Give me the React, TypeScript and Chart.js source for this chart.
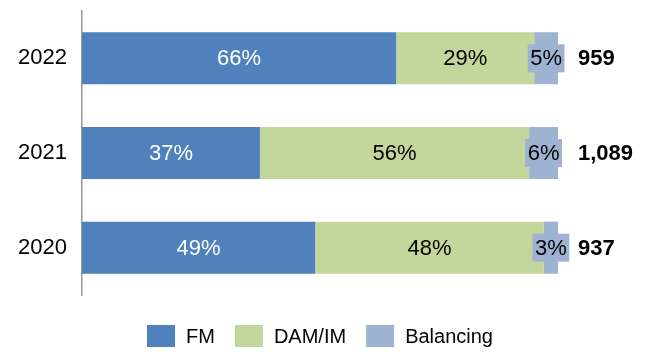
import React, { useEffect, useRef } from 'react';
import { Chart, registerables } from 'chart.js';

Chart.register(...registerables);

const categories = ['2022', '2021', '2020'];
const seriesNames = ['FM', 'DAM/IM', 'Balancing'];
const fmShare = [66, 37, 49];
const damImShare = [29, 56, 48];
const balancingShare = [5, 6, 3];
const totals = ['959', '1,089', '937'];
const seriesColors = ['#4F81BD', '#C3D69B', '#9EB2D2'];
const labelColors = ['#FFFFFF', '#000000', '#000000'];

const shares = [fmShare, damImShare, balancingShare];
const FONT = '"Liberation Sans", Arial, sans-serif';

// normalise each year to 100%
const rowSums = categories.map((_, i) => shares.reduce((s, arr) => s + arr[i], 0));
const normalised = shares.map((arr) => arr.map((v, i) => (v / rowSums[i]) * 100));

const labelPlugin = {
  id: 'valueLabels',
  afterDatasetsDraw(chart: any) {
    const ctx = chart.ctx;
    ctx.save();
    ctx.textBaseline = 'middle';
    ctx.font = `22px ${FONT}`;
    chart.data.datasets.forEach((_: any, di: number) => {
      const meta = chart.getDatasetMeta(di);
      meta.data.forEach((bar: any, i: number) => {
        const { x, y, base } = bar.getProps(['x', 'y', 'base'], true);
        const cx = (x + base) / 2;
        const text = shares[di][i] + '%';
        ctx.textAlign = 'center';
        if (di === 2) {
          const w = ctx.measureText(text).width + 5;
          ctx.fillStyle = seriesColors[2];
          ctx.fillRect(cx - w / 2, y - 14, w, 28);
        }
        ctx.fillStyle = labelColors[di];
        ctx.fillText(text, cx, y + 1);
      });
    });
    // totals
    ctx.font = `bold 22px ${FONT}`;
    ctx.textAlign = 'left';
    ctx.fillStyle = '#000000';
    const last = chart.getDatasetMeta(chart.data.datasets.length - 1);
    last.data.forEach((bar: any, i: number) => {
      ctx.fillText(totals[i], chart.chartArea.right + 20, bar.y + 1);
    });
    ctx.restore();
  },
  afterDraw(chart: any) {
    // legend
    const ctx = chart.ctx;
    ctx.save();
    ctx.font = `20px ${FONT}`;
    ctx.textBaseline = 'middle';
    ctx.textAlign = 'left';
    const boxW = 28;
    const boxH = 22;
    const gapText = 11;
    const gapItem = 20;
    const widths = seriesNames.map((n) => boxW + gapText + ctx.measureText(n).width);
    const total = widths.reduce((a, b) => a + b, 0) + gapItem * (widths.length - 1);
    const centerX = (chart.chartArea.left + chart.chartArea.right) / 2;
    let x = centerX - total / 2;
    const cy = 336;
    seriesNames.forEach((n, i) => {
      ctx.fillStyle = seriesColors[i];
      ctx.fillRect(x, cy - boxH / 2, boxW, boxH);
      ctx.fillStyle = '#000000';
      ctx.fillText(n, x + boxW + gapText, cy + 1);
      x += widths[i] + gapItem;
    });
    ctx.restore();
  },
};

export default function App() {
  const canvasRef = useRef<HTMLCanvasElement | null>(null);

  useEffect(() => {
    if (!canvasRef.current) return;
    const chart = new Chart(canvasRef.current, {
      type: 'bar',
      data: {
        labels: categories,
        datasets: seriesNames.map((name, i) => ({
          label: name,
          data: normalised[i],
          backgroundColor: seriesColors[i],
          borderWidth: 0,
          barPercentage: 1,
          categoryPercentage: 0.55,
        })),
      },
      options: {
        indexAxis: 'y',
        responsive: true,
        maintainAspectRatio: false,
        animation: false,
        layout: { padding: { left: 0, right: 90, top: 11, bottom: 57 } },
        plugins: {
          legend: { display: false },
          tooltip: { enabled: false },
        },
        scales: {
          x: {
            stacked: true,
            min: 0,
            max: 100,
            display: false,
          },
          y: {
            stacked: true,
            grid: { display: false, drawTicks: false },
            border: { display: true, color: '#9A9A9A', width: 1.5 },
            ticks: {
              color: '#000000',
              padding: 15,
              font: { family: FONT, size: 22 },
            },
            afterFit(scale: any) {
              scale.width = 82;
              scale.paddingTop = 0;
              scale.paddingBottom = 0;
            },
          },
        },
      },
      plugins: [labelPlugin],
    });
    return () => chart.destroy();
  }, []);

  return (
    <div style={{ position: 'absolute', left: 0, top: 0, width: 648, height: 352, background: '#ffffff' }}>
      <canvas ref={canvasRef} />
    </div>
  );
}
